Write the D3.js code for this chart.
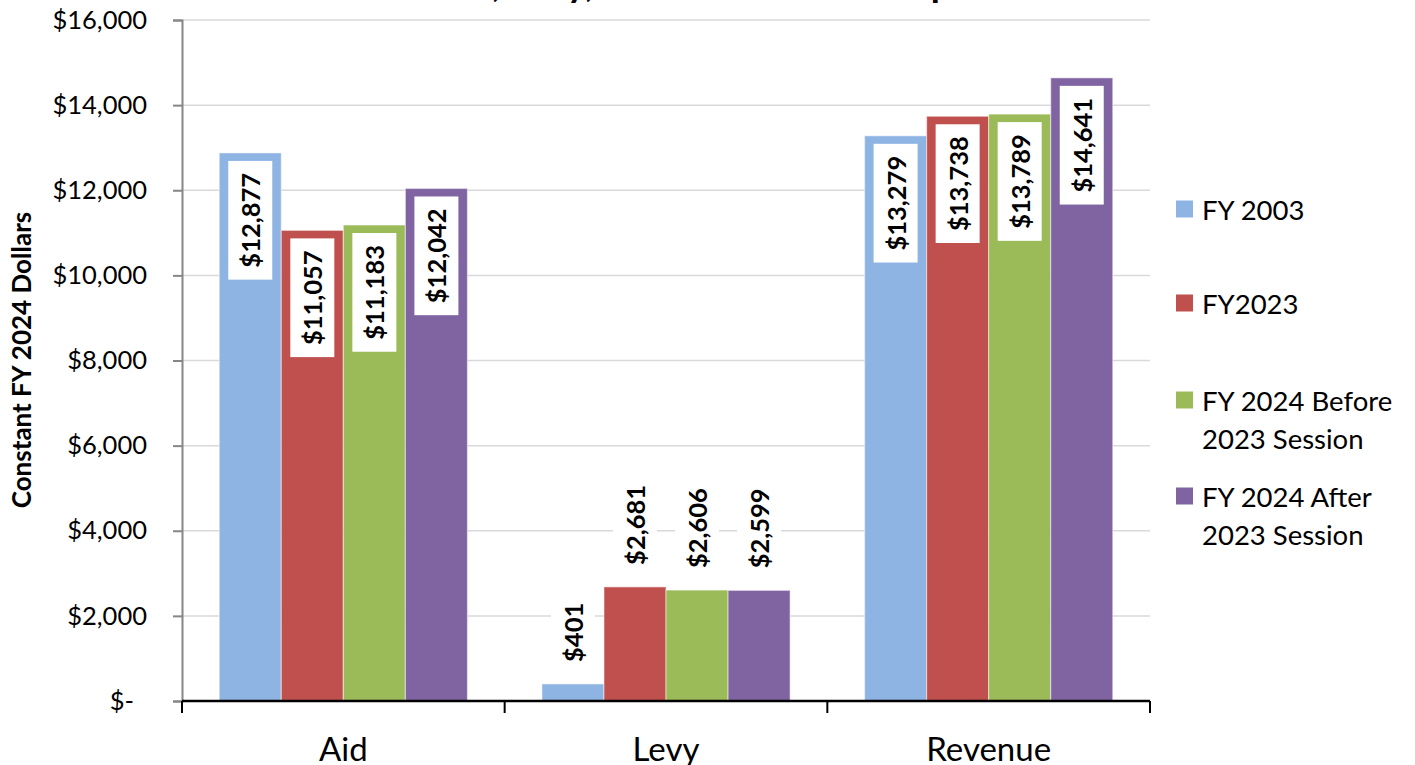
<!DOCTYPE html>
<html>
<head>
<meta charset="utf-8">
<script src="https://cdn.jsdelivr.net/npm/d3@7"></script>
<style>
  html, body { margin: 0; padding: 0; background: #fff; }
  svg { display: block; font-family: Lato, "Open Sans", sans-serif; }
</style>
</head>
<body>
<svg id="chart" width="1415" height="765"></svg>
<script>
const title = "Aid, Levy, and Revenue Per Pupil";
const yAxisTitle = "Constant FY 2024 Dollars";
const categories = ["Aid", "Levy", "Revenue"];
const seriesNames = ["FY 2003", "FY2023", "FY 2024 Before 2023 Session", "FY 2024 After 2023 Session"];
const legendLines = [["FY 2003"], ["FY2023"], ["FY 2024 Before", "2023 Session"], ["FY 2024 After", "2023 Session"]];
const fy2003 = [12877, 401, 13279];
const fy2023 = [11057, 2681, 13738];
const fy2024Before = [11183, 2606, 13789];
const fy2024After = [12042, 2599, 14641];
const yTicks = [0, 2000, 4000, 6000, 8000, 10000, 12000, 14000, 16000];
const colors = ["#8EB4E3", "#C0504D", "#9BBB59", "#8064A2"];

const seriesValues = [fy2003, fy2023, fy2024Before, fy2024After];

const svg = d3.select("#chart");
const plotLeft = 182, plotRight = 1150, plotTop = 20, plotBottom = 701;

const x0 = d3.scaleBand().domain(categories).range([plotLeft, plotRight]).paddingInner(0).paddingOuter(0);
const x1 = d3.scaleBand().domain(d3.range(seriesNames.length)).range([0, x0.bandwidth()]).paddingInner(0).paddingOuter(0.6);
const y = d3.scaleLinear().domain([0, 16000]).range([plotBottom, plotTop]);

// title (clipped at the top of the page)
svg.append("text")
  .attr("x", 436).attr("y", -3)
  .attr("font-weight", "bold").attr("font-size", 37).attr("fill", "#000")
  .text(title);

// gridlines
svg.append("g").selectAll("line").data(yTicks.filter(d => d > 0)).join("line")
  .attr("x1", plotLeft).attr("x2", plotRight)
  .attr("y1", d => y(d)).attr("y2", d => y(d))
  .attr("stroke", "#d9d9d9").attr("stroke-width", 1.5);

// y axis
const yAxis = svg.append("g").attr("transform", `translate(${plotLeft},0)`)
  .call(d3.axisLeft(y).tickValues(yTicks).tickSize(9).tickPadding(26)
    .tickFormat(d => d === 0 ? "$-" : "$" + d3.format(",")(d)));
yAxis.select(".domain").attr("stroke", "#868686").attr("stroke-width", 2);
yAxis.selectAll(".tick line").attr("stroke", "#868686").attr("stroke-width", 2);
yAxis.selectAll(".tick text")
  .attr("font-family", "Lato, sans-serif").attr("font-size", 25.5).attr("fill", "#000")
  .attr("dx", d => d === 0 ? -13 : 0);

// bars
const groups = svg.append("g").selectAll("g").data(categories).join("g")
  .attr("transform", d => `translate(${x0(d)},0)`);

const barData = (c, ci) => seriesValues.map((vals, si) => ({ c, si, v: vals[ci] }));

groups.selectAll("rect").data((c, ci) => barData(c, ci)).join("rect")
  .attr("x", d => x1(d.si)).attr("width", x1.bandwidth())
  .attr("y", d => y(d.v)).attr("height", d => y(0) - y(d.v))
  .attr("fill", d => colors[d.si])
  .attr("stroke", "rgba(255,255,255,0.45)").attr("stroke-width", 1.2);

// x axis
svg.append("line").attr("x1", plotLeft).attr("x2", plotRight).attr("y1", plotBottom).attr("y2", plotBottom)
  .attr("stroke", "#000").attr("stroke-width", 2.5);
const boundaries = categories.map(c => x0(c)).concat([plotRight]);
svg.append("g").selectAll("line").data(boundaries).join("line")
  .attr("x1", d => d).attr("x2", d => d).attr("y1", plotBottom).attr("y2", plotBottom + 12)
  .attr("stroke", "#000").attr("stroke-width", 2);
svg.append("g").selectAll("text").data(categories).join("text")
  .attr("x", d => x0(d) + x0.bandwidth() / 2).attr("y", 761)
  .attr("text-anchor", "middle").attr("font-size", 33).attr("fill", "#000")
  .text(d => d);

// data labels
const fmt = v => "$" + d3.format(",")(v);
const labelFont = 25.5, boxW = 44, boxPad = 12, gap = 8;
const labels = groups.selectAll("g.lbl").data((c, ci) => barData(c, ci)).join("g").attr("class", "lbl");
labels.each(function(d) {
  const g = d3.select(this);
  const t = g.append("text")
    .attr("font-weight", "bold").attr("font-size", labelFont).attr("fill", "#000")
    .attr("text-anchor", "middle").attr("dominant-baseline", "central")
    .text(fmt(d.v));
  const len = t.node().getComputedTextLength();
  const boxH = len + 2 * boxPad;
  const cx = x1(d.si) + x1.bandwidth() / 2;
  const barH = y(0) - y(d.v);
  let cy;
  if (barH > boxH + gap * 2) cy = y(d.v) + gap + boxH / 2;
  else cy = y(d.v) - gap - 2 - boxH / 2;
  g.insert("rect", "text")
    .attr("x", cx - boxW / 2).attr("y", cy - boxH / 2)
    .attr("width", boxW).attr("height", boxH).attr("fill", "#fff");
  t.attr("transform", `translate(${cx},${cy}) rotate(-90)`);
});

// y axis title
svg.append("text")
  .attr("transform", "translate(21,360) rotate(-90)")
  .attr("text-anchor", "middle").attr("dominant-baseline", "central")
  .attr("font-weight", "bold").attr("font-size", 26).attr("fill", "#000")
  .text(yAxisTitle);

// legend
const legendY = [209, 303, 400, 496];
const lg = svg.append("g").selectAll("g").data(seriesNames).join("g")
  .attr("transform", (d, i) => `translate(1176,${legendY[i]})`);
lg.append("rect").attr("x", 0).attr("y", -8.5).attr("width", 17).attr("height", 17)
  .attr("fill", (d, i) => colors[i]);
lg.each(function(d, i) {
  d3.select(this).selectAll("text").data(legendLines[i]).join("text")
    .attr("x", 26).attr("y", (l, j) => j * 38)
    .attr("dominant-baseline", "central")
    .attr("font-size", 27.5).attr("fill", "#000")
    .text(l => l);
});
</script>
</body>
</html>
